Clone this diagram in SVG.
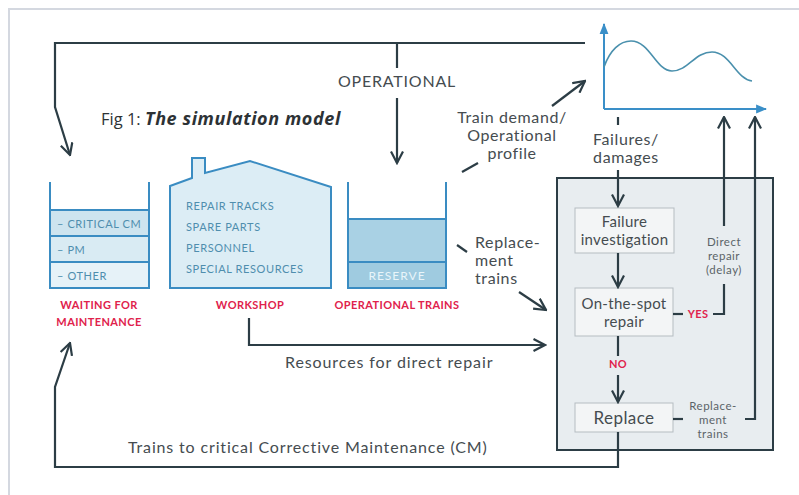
<svg xmlns="http://www.w3.org/2000/svg" width="799" height="495" viewBox="0 0 799 495">
<style>
.ln{fill:none;stroke:#2c3d45;stroke-width:2.2}
.ct{fill:none;stroke:#3a8cc2;stroke-width:2}
.lbl{font-family:Lato,"Open Sans",sans-serif;fill:#454c50}
.sm{font-family:Lato,"Open Sans",sans-serif;fill:#5b6468;font-size:11.5px;letter-spacing:0.5px;text-anchor:middle}
.blu{font-family:Lato,"Open Sans",sans-serif;fill:#4f8eae;font-size:11px;letter-spacing:0.6px}
.red{font-family:Lato,"Open Sans",sans-serif;fill:#e0224c;font-size:11px;font-weight:bold;letter-spacing:0.4px;text-anchor:middle}
.box{fill:#f3f5f6;stroke:#b5bdc1;stroke-width:1}
</style>
<defs>
<marker id="ah" viewBox="0 0 14 14" refX="12.5" refY="7" markerWidth="14" markerHeight="14" orient="auto" markerUnits="userSpaceOnUse">
<path d="M1,1 L12.5,7 L1,13" fill="none" stroke="#2c3d45" stroke-width="2.2"/>
</marker>
<marker id="bh" viewBox="0 0 10 10" refX="9" refY="5" markerWidth="11" markerHeight="11" orient="auto" markerUnits="userSpaceOnUse">
<path d="M0,1 L10,5 L0,9 Z" fill="#3a8fc8"/>
</marker>
</defs>
<rect x="0" y="0" width="799" height="495" fill="#ffffff"/>
<rect x="9" y="9" width="820" height="520" fill="none" stroke="#d4d8e0" stroke-width="2"/>

<g id="chart">
<path d="M604,109 V24" fill="none" stroke="#3a8fc8" stroke-width="2" marker-end="url(#bh)"/>
<path d="M604,109 H766" fill="none" stroke="#3a8fc8" stroke-width="2" marker-end="url(#bh)"/>
<path d="M604,67 C610,50 620,41 631,41 C650,41 656,71 672,71 C688,71 695,52 712,52 C730,52 736,79 752,81" fill="none" stroke="#4a90ad" stroke-width="1.6"/>
</g>

<g id="title">
<text x="101" y="125" font-family="'Open Sans',sans-serif" font-size="16.5" fill="#2d3235">Fig 1: <tspan font-weight="bold" font-style="italic" font-size="18" letter-spacing="0.6">The simulation model</tspan></text>
</g>

<g id="waiting">
<rect x="50" y="210" width="99" height="26" fill="#cde4ef"/>
<rect x="50" y="236" width="99" height="26" fill="#d9ebf3"/>
<rect x="50" y="262" width="99" height="26" fill="#e6f2f8"/>
<path class="ct" d="M50,182 V288 H149 V182 M50,210 H149 M50,236 H149 M50,262 H149"/>
<text class="blu" x="57" y="228">– CRITICAL CM</text>
<text class="blu" x="57" y="254">– PM</text>
<text class="blu" x="57" y="280">– OTHER</text>
<text class="red" x="99" y="309">WAITING FOR</text>
<text class="red" x="99" y="326">MAINTENANCE</text>
</g>

<g id="workshop">
<path d="M170,186 L192,178 V158 H205 V173 L250,161 L331,187 V288 H170 Z" fill="#dcedf5" stroke="#3a8cc2" stroke-width="2" stroke-linejoin="miter"/>
<text class="blu" x="186" y="210">REPAIR TRACKS</text>
<text class="blu" x="186" y="231">SPARE PARTS</text>
<text class="blu" x="186" y="252">PERSONNEL</text>
<text class="blu" x="186" y="273">SPECIAL RESOURCES</text>
<text class="red" x="250" y="309">WORKSHOP</text>
</g>

<g id="operational-trains">
<rect x="348" y="219" width="98" height="43" fill="#a9d1e4"/>
<rect x="348" y="262" width="98" height="26" fill="#9fcbe0"/>
<path class="ct" d="M348,182 V288 H446 V182 M348,219 H446 M348,262 H446"/>
<text x="397" y="280" font-family="Lato,sans-serif" font-size="12" fill="#e9f5fa" text-anchor="middle" letter-spacing="1">RESERVE</text>
<text class="red" x="397" y="309">OPERATIONAL TRAINS</text>
</g>

<g id="maintenance-panel">
<rect x="557" y="178" width="216" height="272" fill="#e8edf0" stroke="#2c3d45" stroke-width="2"/>
</g>

<g id="failure-investigation">
<rect class="box" x="575" y="208" width="99" height="45"/>
<text class="lbl" x="624.5" y="227" font-size="15" text-anchor="middle" letter-spacing="0.3">Failure</text>
<text class="lbl" x="624.5" y="245" font-size="15" text-anchor="middle" letter-spacing="0.3">investigation</text>
</g>

<g id="on-the-spot">
<rect class="box" x="575" y="288" width="98" height="48"/>
<text class="lbl" x="624" y="309" font-size="15" text-anchor="middle" letter-spacing="0.3">On-the-spot</text>
<text class="lbl" x="624" y="327" font-size="15" text-anchor="middle" letter-spacing="0.3">repair</text>
</g>

<g id="replace">
<rect class="box" x="575" y="403" width="98" height="29"/>
<text class="lbl" x="624" y="424" font-size="17" text-anchor="middle" letter-spacing="0.4">Replace</text>
</g>

<g id="connectors">
<path class="ln" d="M585,43 H55 V107 L70,155" marker-end="url(#ah)"/>
<path class="ln" d="M397,43 V68"/>
<path class="ln" d="M397,98 V163" marker-end="url(#ah)"/>
<path class="ln" d="M462,172 L478,163"/>
<path class="ln" d="M552,106 L585,81" marker-end="url(#ah)"/>
<path class="ln" d="M457,245 L467,252"/>
<path class="ln" d="M519,292 L546,310" marker-end="url(#ah)"/>
<path class="ln" d="M249,318 V345 H545" marker-end="url(#ah)"/>
<path class="ln" d="M618,117 V125"/>
<path class="ln" d="M618,170 V206" marker-end="url(#ah)"/>
<path class="ln" d="M618,253 V287" marker-end="url(#ah)"/>
<path class="ln" d="M618,336 V356"/>
<path class="ln" d="M618,375 V402" marker-end="url(#ah)"/>
<path class="ln" d="M673,314 H683"/>
<path class="ln" d="M713,314 H724 V284"/>
<path class="ln" d="M724,226 V117" marker-end="url(#ah)"/>
<path class="ln" d="M673,419 H683"/>
<path class="ln" d="M745,419 H755 V117" marker-end="url(#ah)"/>
<path class="ln" d="M618,432 V467 H55 V387 L70,343" marker-end="url(#ah)"/>
</g>

<g id="labels">
<text class="lbl" x="397" y="87" font-size="16" text-anchor="middle" letter-spacing="0.8">OPERATIONAL</text>
<text class="lbl" x="512" y="123" font-size="16" text-anchor="middle" letter-spacing="0.6">Train demand/</text>
<text class="lbl" x="512" y="141" font-size="16" text-anchor="middle" letter-spacing="0.6">Operational</text>
<text class="lbl" x="512" y="159" font-size="16" text-anchor="middle" letter-spacing="0.6">profile</text>
<text class="lbl" x="626" y="145" font-size="16" text-anchor="middle" letter-spacing="0.6">Failures/</text>
<text class="lbl" x="626" y="163" font-size="16" text-anchor="middle" letter-spacing="0.6">damages</text>
<text class="lbl" x="475" y="248" font-size="16" letter-spacing="0.6">Replace-</text>
<text class="lbl" x="475" y="266" font-size="16" letter-spacing="0.6">ment</text>
<text class="lbl" x="475" y="284" font-size="16" letter-spacing="0.6">trains</text>
<text class="lbl" x="285" y="368" font-size="16" letter-spacing="0.9">Resources for direct repair</text>
<text class="lbl" x="128" y="453" font-size="16" letter-spacing="0.85">Trains to critical Corrective Maintenance (CM)</text>
<text class="sm" x="724" y="246">Direct</text>
<text class="sm" x="724" y="260">repair</text>
<text class="sm" x="724" y="274">(delay)</text>
<text class="sm" x="713" y="410">Replace-</text>
<text class="sm" x="713" y="424">ment</text>
<text class="sm" x="713" y="438">trains</text>
<text class="red" x="698" y="318" font-size="12">YES</text>
<text class="red" x="618" y="368" font-size="12">NO</text>
</g>
</svg>
